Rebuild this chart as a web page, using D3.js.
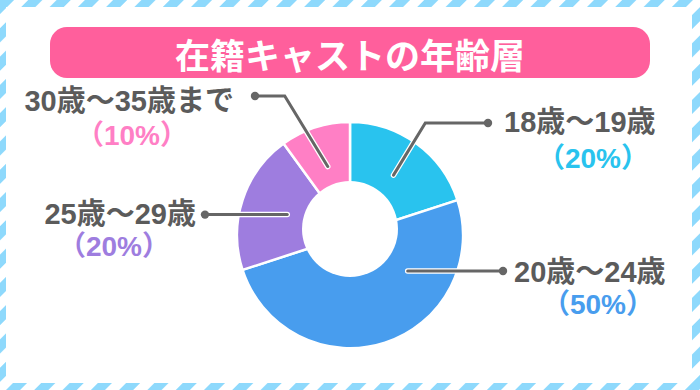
<!DOCTYPE html>
<html>
<head>
<meta charset="utf-8">
<script src="https://cdn.jsdelivr.net/npm/d3@7"></script>
<style>
  html, body { margin: 0; padding: 0; background: #fff; }
  svg { display: block; font-family: "Noto Sans CJK JP", "Noto Sans", sans-serif; }
  .lbl { font-family: "Liberation Sans", "Noto Sans CJK JP", sans-serif; font-weight: bold; }
</style>
</head>
<body>
<svg id="chart"></svg>
<script>
const width = 700;
const height = 390;

// データ
const title = "在籍キャストの年齢層";
const categories = ["18歳〜19歳", "20歳〜24歳", "25歳〜29歳", "30歳〜35歳まで"];
const values = [20, 50, 20, 10];
const percentLabels = ["（20%）", "（50%）", "（20%）", "（10%）"];
const colors = ["#29c3ee", "#489dee", "#9e7ddf", "#ff7fc5"];

const svg = d3.select("#chart").attr("width", width).attr("height", height);

// 枠のストライプ
const defs = svg.append("defs");
defs.append("pattern")
  .attr("id", "stripe")
  .attr("width", 20)
  .attr("height", 20)
  .attr("patternUnits", "userSpaceOnUse")
  .attr("patternTransform", "rotate(45)")
  .append("rect")
  .attr("width", 10)
  .attr("height", 20)
  .attr("fill", "#8ed9fc");

svg.append("rect")
  .attr("width", width)
  .attr("height", height)
  .attr("fill", "url(#stripe)");

svg.append("rect")
  .attr("x", 6)
  .attr("y", 7)
  .attr("width", width - 14)
  .attr("height", height - 14)
  .attr("fill", "#fff");

// タイトル
svg.append("rect")
  .attr("x", 50)
  .attr("y", 27)
  .attr("width", 600)
  .attr("height", 51)
  .attr("rx", 17)
  .attr("fill", "#ff5f9c");

svg.append("text")
  .attr("x", 350)
  .attr("y", 53)
  .attr("text-anchor", "middle")
  .attr("dominant-baseline", "central")
  .attr("fill", "#fff")
  .style("font-size", "35px")
  .style("font-weight", "bold")
  .text(title);

// ドーナツ
const cx = 350, cy = 235;
const outerR = 113;
const g = svg.append("g").attr("transform", `translate(${cx},${cy})`);

const pie = d3.pie().sort(null).value(d => d);
const arcs = pie(values);
const arc = d3.arc().innerRadius(0).outerRadius(outerR);

g.selectAll("path.slice")
  .data(arcs)
  .join("path")
  .attr("class", "slice")
  .attr("d", arc)
  .attr("fill", (d, i) => colors[i])
  .attr("stroke", "#fff")
  .attr("stroke-width", 2.5)
  .attr("stroke-linejoin", "round");

// 穴（少し上にずれている）
g.append("circle")
  .attr("cx", 0)
  .attr("cy", -6)
  .attr("r", 48)
  .attr("fill", "#fff");

// 引き出し線とラベルの配置
const layout = [
  { angle: null, r: 74, elbowY: 123, dotX: 488, side: "right", textX: 504, textY: 121.5, pctX: 593, pctY: 158.5 },
  { angle: 122, r: 68, elbowY: null, dotX: 503, side: "right", textX: 514, textY: 271.5, pctX: 598, pctY: 304 },
  { angle: null, r: 66, elbowY: null, dotX: 205, side: "left", textX: 196, textY: 213.5, pctX: 114, pctY: 246.5 },
  { angle: null, r: 72, elbowY: 96, dotX: 255, side: "left", textX: 234, textY: 101, pctX: 132, pctY: 135.5 }
];

const leaderLine = d3.line();

arcs.forEach((d, i) => {
  const L = layout[i];
  const a = L.angle === null ? (d.startAngle + d.endAngle) / 2 : L.angle * Math.PI / 180;
  const p0 = [cx + L.r * Math.sin(a), cy - L.r * Math.cos(a)];
  let pts;
  if (L.elbowY !== null) {
    const dy = L.elbowY - p0[1];
    const ex = p0[0] + (L.side === "right" ? -dy : dy) * 0.61;
    pts = [p0, [ex, L.elbowY], [L.dotX, L.elbowY]];
  } else {
    pts = [p0, [L.dotX, p0[1]]];
  }
  const end = pts[pts.length - 1];

  svg.append("path")
    .attr("d", leaderLine(pts))
    .attr("fill", "none")
    .attr("stroke", "#fff")
    .attr("stroke-width", 5.5)
    .attr("stroke-linecap", "round")
    .attr("stroke-linejoin", "round");
  svg.append("circle")
    .attr("cx", end[0]).attr("cy", end[1]).attr("r", 5.5)
    .attr("fill", "#fff");
  svg.append("path")
    .attr("d", leaderLine(pts))
    .attr("fill", "none")
    .attr("stroke", "#666")
    .attr("stroke-width", 3)
    .attr("stroke-linecap", "round")
    .attr("stroke-linejoin", "miter");
  svg.append("circle")
    .attr("cx", end[0]).attr("cy", end[1]).attr("r", 4.2)
    .attr("fill", "#666");

  svg.append("text")
    .attr("class", "lbl")
    .attr("x", L.textX)
    .attr("y", L.textY)
    .attr("text-anchor", L.side === "right" ? "start" : "end")
    .attr("dominant-baseline", "central")
    .attr("fill", "#5b5b5b")
    .style("font-size", "29px")
    .text(categories[i]);

  svg.append("text")
    .attr("class", "lbl")
    .attr("x", L.pctX)
    .attr("y", L.pctY)
    .attr("text-anchor", "middle")
    .attr("dominant-baseline", "central")
    .attr("fill", colors[i])
    .style("font-size", "28px")
    .text(percentLabels[i]);
});
</script>
</body>
</html>
